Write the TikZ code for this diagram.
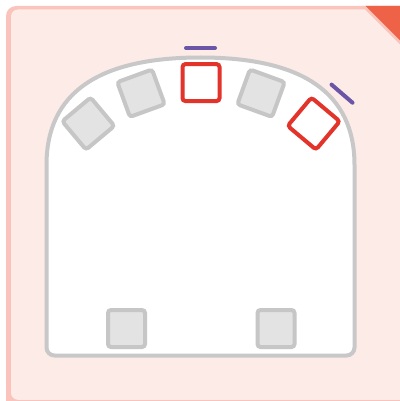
\documentclass[tikz,border=0pt]{standalone}
\usetikzlibrary{calc}
\definecolor{cardfill}{HTML}{FDEBE8}
\definecolor{cardline}{HTML}{FAC4BC}
\definecolor{cornerred}{HTML}{EE6248}
\definecolor{bodyline}{HTML}{C8C8C8}
\definecolor{boxfill}{HTML}{E3E3E3}
\definecolor{boxline}{HTML}{C6C6C6}
\definecolor{hotred}{HTML}{E3342B}
\definecolor{markpurple}{HTML}{6B55A6}
\begin{document}
\begin{tikzpicture}[x=1pt,y=-1pt,
  graybox/.style={draw=boxline, fill=boxfill, line width=4pt, minimum size=37pt,
    inner sep=0pt, outer sep=0pt, rounded corners=3pt},
  redbox/.style={draw=hotred, fill=white, line width=4pt, minimum size=37pt,
    inner sep=0pt, outer sep=0pt, rounded corners=3pt},
  purplemark/.style={draw=markpurple, line width=4pt, line cap=round}]
\useasboundingbox (0,0) rectangle (399,401);
% card
\fill[cardline, rounded corners=10pt] (6,6) rectangle (430,430);
\fill[cardfill, rounded corners=7pt] (11,9.5) rectangle (430,399.8);
% corner fold
\fill[cardline] (361.5,6) -- (400,44.5) -- (400,6) -- cycle;
\fill[cornerred] (365.5,6) -- (400,6) -- (400,40.5) -- cycle;
% body
\draw[bodyline, fill=white, line width=4pt]
  (46.5,165) -- (46.5,347.5) arc[start angle=180, end angle=90, radius=8]
  -- (346.5,355.5) arc[start angle=90, end angle=0, radius=8]
  -- (354.5,165) .. controls (354.5,93.33) and (303.17,57.5) .. (200.5,57.5)
  .. controls (97.83,57.5) and (46.5,93.33) .. cycle;
% arch boxes
\node[graybox, rotate=40]  (g1) at (88.3,123.6) {};
\node[graybox, rotate=20]  (g2) at (141,93.2) {};
\node[redbox]              (r1) at (201,82.6) {};
\node[graybox, rotate=-20] (g3) at (261,93.2) {};
\node[redbox, rotate=-40]  (r2) at (313.7,123.6) {};
% bottom boxes
\node[graybox] (b1) at (126.5,328.5) {};
\node[graybox] (b2) at (276,328.5) {};
% purple marks
\draw[purplemark] (186,48) -- (215,48);
\draw[purplemark] (331.5,84.6) -- (352.5,102.7);
\end{tikzpicture}
\end{document}
